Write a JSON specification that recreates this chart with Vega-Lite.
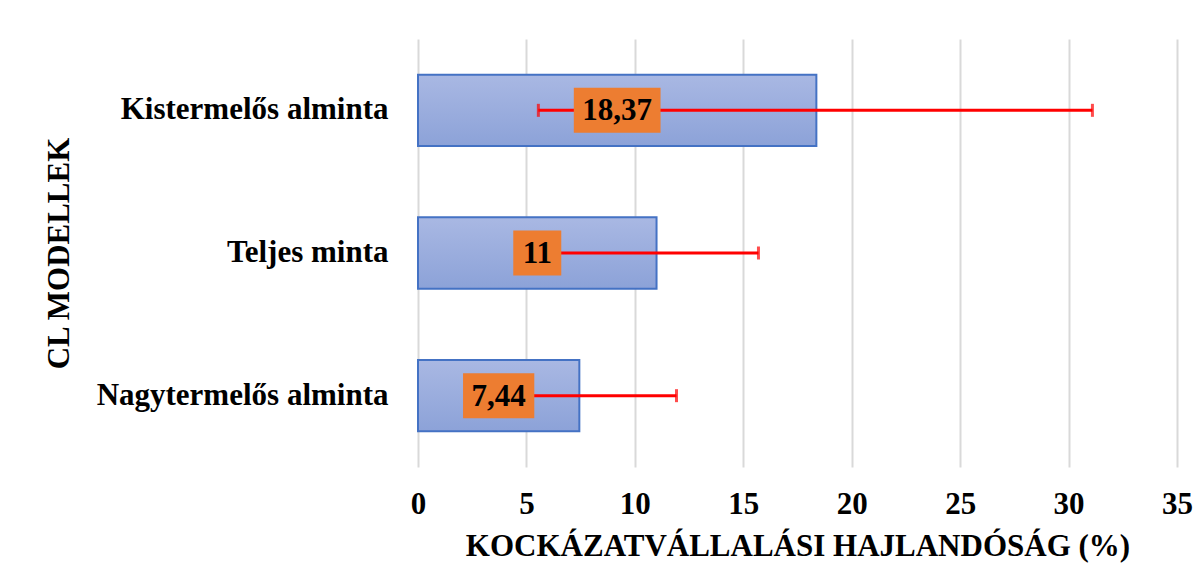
{
  "$schema": "https://vega.github.io/schema/vega-lite/v6.json",
  "width": 759,
  "height": 428,
  "autosize": "none",
  "padding": {"left": 418, "top": 39, "right": 24, "bottom": 101},
  "background": "white",
  "config": {"view": {"stroke": null}, "font": "Liberation Serif"},
  "data": {
    "values": [
      {"model": "Kistermelős alminta", "value": 18.37, "label": "18,37", "err_lo": 5.55, "err_hi": 31.1},
      {"model": "Teljes minta", "value": 11, "label": "11", "err_lo": 6.3, "err_hi": 15.7},
      {"model": "Nagytermelős alminta", "value": 7.44, "label": "7,44", "err_lo": 2.96, "err_hi": 11.92}
    ]
  },
  "transform": [
    {"calculate": "datum.value / 2", "as": "mid"},
    {"calculate": "length(replace(datum.label, ',', ''))", "as": "nd"},
    {"calculate": "(15.5 * datum.nd + 7.75 * (length(datum.label) - datum.nd) + 17) / 2 / (759 / 35)", "as": "hw"},
    {"calculate": "datum.mid - datum.hw", "as": "box_lo"},
    {"calculate": "datum.mid + datum.hw", "as": "box_hi"}
  ],
  "encoding": {
    "y": {
      "field": "model",
      "type": "nominal",
      "sort": ["Kistermelős alminta", "Teljes minta", "Nagytermelős alminta"],
      "scale": {"paddingInner": 0.5, "paddingOuter": 0.25},
      "axis": {
        "title": "CL MODELLEK",
        "domain": false,
        "ticks": false,
        "grid": false,
        "labelFontSize": 31,
        "labelFontWeight": "bold",
        "labelColor": "#000000",
        "labelPadding": 30,
        "labelLimit": 500,
        "titleFontSize": 31,
        "titleFontWeight": "bold",
        "titleColor": "#000000",
        "titleX": -343,
        "titleY": 214,
        "titleAngle": -90,
        "titleBaseline": "bottom",
        "titleAlign": "center"
      }
    }
  },
  "layer": [
    {
      "mark": {
        "type": "bar",
        "color": {
          "gradient": "linear",
          "x1": 0, "y1": 0, "x2": 0, "y2": 1,
          "stops": [
            {"offset": 0, "color": "#A9B8E3"},
            {"offset": 1, "color": "#8CA2D8"}
          ]
        },
        "stroke": "#4472C4",
        "strokeWidth": 2
      },
      "encoding": {
        "x": {
          "field": "value",
          "type": "quantitative",
          "scale": {"domain": [0, 35], "nice": false},
          "axis": {
            "values": [0, 5, 10, 15, 20, 25, 30, 35],
            "title": "KOCKÁZATVÁLLALÁSI HAJLANDÓSÁG (%)",
            "domain": false,
            "ticks": false,
            "grid": true,
            "gridColor": "#D9D9D9",
            "gridWidth": 2,
            "labelFontSize": 31,
            "labelFontWeight": "bold",
            "labelColor": "#000000",
            "labelPadding": 22,
            "labelFlush": false,
            "titleFontSize": 31,
            "titleFontWeight": "bold",
            "titleColor": "#000000",
            "titlePadding": 12
          }
        }
      }
    },
    {
      "mark": {"type": "rule", "color": "#FF0000", "strokeWidth": 3},
      "encoding": {
        "x": {"field": "err_lo", "type": "quantitative"},
        "x2": {"field": "err_hi"}
      }
    },
    {
      "mark": {"type": "tick", "color": "#FF0000", "thickness": 3, "size": 13},
      "encoding": {"x": {"field": "err_lo", "type": "quantitative"}}
    },
    {
      "mark": {"type": "tick", "color": "#FF0000", "thickness": 3, "size": 13},
      "encoding": {"x": {"field": "err_hi", "type": "quantitative"}}
    },
    {
      "mark": {"type": "bar", "color": "#ED7D31", "height": 45},
      "encoding": {
        "x": {"field": "box_lo", "type": "quantitative"},
        "x2": {"field": "box_hi"}
      }
    },
    {
      "mark": {"type": "text", "fontSize": 31, "fontWeight": "bold", "color": "#000000", "baseline": "middle", "align": "center", "dy": 1},
      "encoding": {
        "x": {"field": "mid", "type": "quantitative"},
        "text": {"field": "label", "type": "nominal"}
      }
    }
  ]
}
